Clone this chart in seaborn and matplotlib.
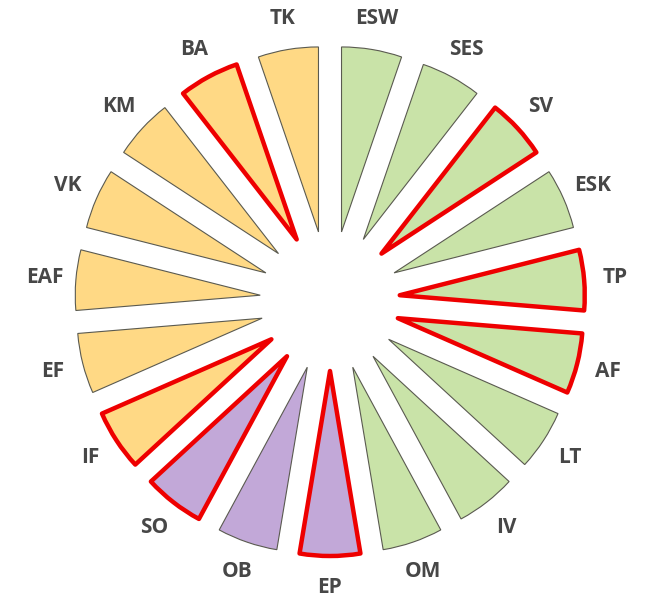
import matplotlib
matplotlib.use("Agg")
import matplotlib.pyplot as plt
import seaborn as sns

# Wedge labels, clockwise from the top
labels = ["ESW", "SES", "SV", "ESK", "TP", "AF", "LT", "IV", "OM", "EP",
          "OB", "SO", "IF", "EF", "EAF", "VK", "KM", "BA", "TK"]
# group of each wedge
groups = ["g", "g", "g", "g", "g", "g", "g", "g", "g", "p",
          "p", "p", "y", "y", "y", "y", "y", "y", "y"]
# wedges outlined in red
highlighted = ["SV", "TP", "AF", "EP", "SO", "IF", "BA"]
sizes = [1] * len(labels)

palette = {"g": "#C9E3A8", "p": "#C2A8D8", "y": "#FFD985"}

sns.set_theme(style="white")
plt.rcParams['font.family'] = ['Open Sans', 'DejaVu Sans']

fig = plt.figure(figsize=(6.45, 6.0), dpi=100)
ax = fig.add_axes([0, 0, 1, 1])

R = 185
wedges, texts = ax.pie(
    sizes,
    labels=labels,
    colors=[palette[g] for g in groups],
    radius=R,
    explode=[70] * len(labels),   # pie uses explode in data units
    startangle=90,
    counterclock=False,
    labeldistance=1.17,
    wedgeprops=dict(edgecolor="#5a5a50", linewidth=0.8),
    textprops=dict(fontsize=15, fontweight="bold", color="#474747"),
)

for w, lab in zip(wedges, labels):
    if lab in highlighted:
        w.set_edgecolor("#EE0000")
        w.set_linewidth(3.2)
        w.set_joinstyle("round")
        w.set_zorder(3)

for t in texts:
    t.set_ha("center")
    t.set_va("center")

ax.set_xlim(-330, 315)
ax.set_ylim(-299, 301)
ax.set_aspect("equal")
ax.axis("off")

fig.savefig("out.png", dpi=100)
